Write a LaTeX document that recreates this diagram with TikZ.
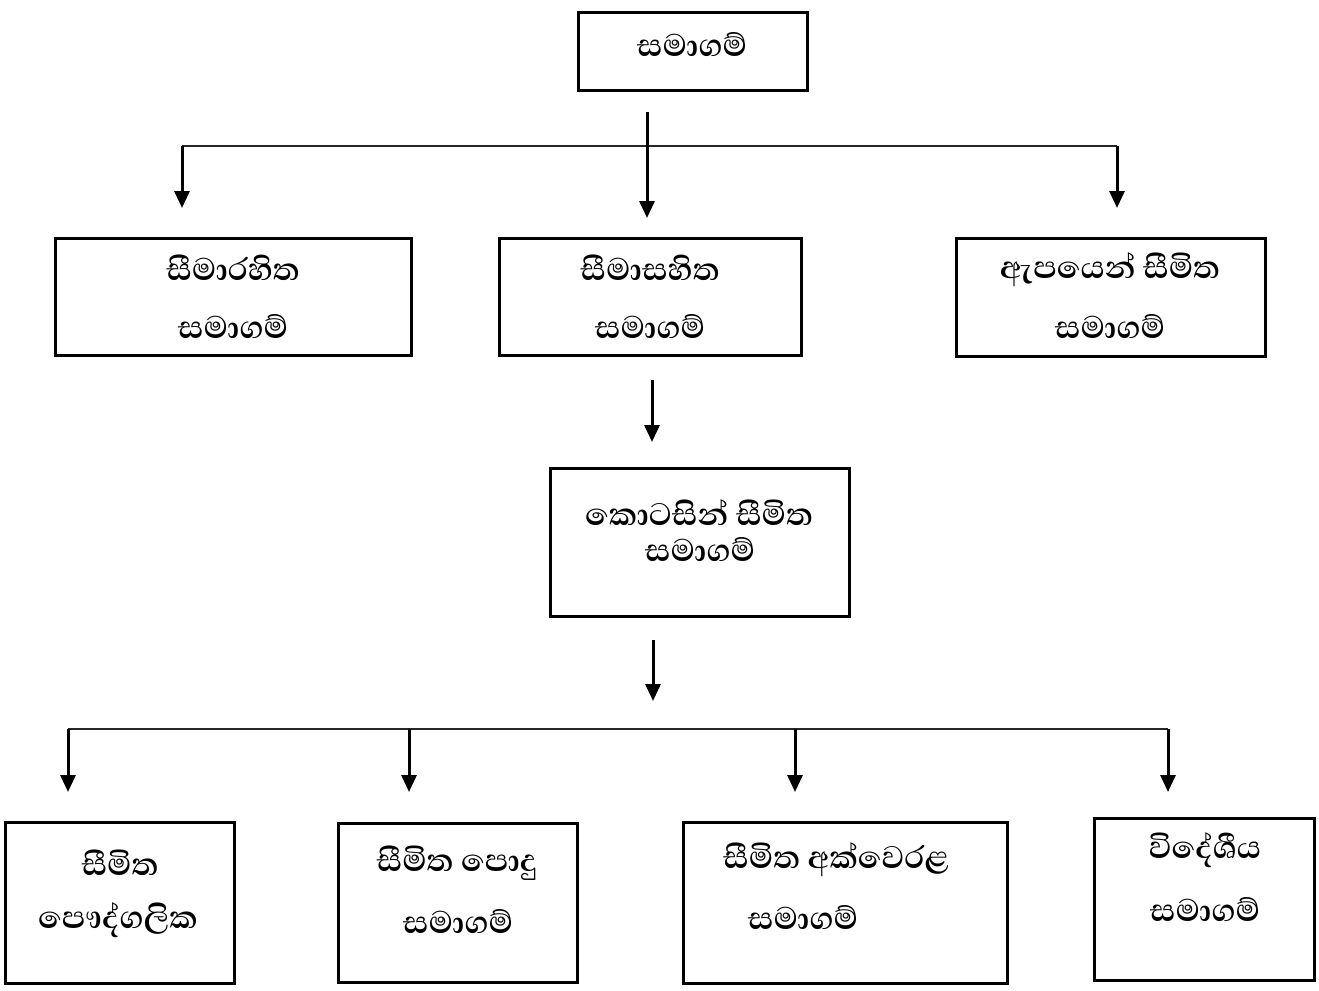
\documentclass[tikz,border=0pt]{standalone}
\usepackage{fontspec}
\newfontfamily\sinhalafont[Script=Sinhala]{Abhaya Libre}
\usetikzlibrary{arrows.meta}
\begin{document}
\begin{tikzpicture}[x=1pt,y=-1pt,
  box/.style={draw=black,line width=3pt,inner sep=0pt,fill=none},
  lbl/.style={inner sep=0pt,font=\sinhalafont\bfseries\fontsize{40}{46}\selectfont},
  arr/.style={draw=black,line width=3pt,-{Triangle[length=17pt,width=15pt]}},
  bar/.style={draw=black!85,line width=1.5pt}]
\useasboundingbox (0,0) rectangle (1319,990);
% boxes
\node[box,minimum width=229pt,minimum height=78pt] (top) at (693,51.5) {};
\node[box,minimum width=356pt,minimum height=117pt] (b1) at (233.5,297) {};
\node[box,minimum width=302pt,minimum height=117pt] (b2) at (650.5,297) {};
\node[box,minimum width=309pt,minimum height=118pt] (b3) at (1111,297.5) {};
\node[box,minimum width=299pt,minimum height=148pt] (b4) at (700,542.5) {};
\node[box,minimum width=229pt,minimum height=161pt] (c1) at (120,903) {};
\node[box,minimum width=239pt,minimum height=159pt] (c2) at (458,903) {};
\node[box,minimum width=324pt,minimum height=161pt] (c3) at (845.5,903) {};
\node[box,minimum width=220pt,minimum height=162pt] (c4) at (1204.5,899.5) {};
% labels
\node[lbl] (topt) at (692,45) {සමාගම්};
\node[lbl] (b1a) at (233,268) {සීමාරහිත};
\node[lbl] (b1b) at (233,327) {සමාගම්};
\node[lbl] (b2a) at (650,268) {සීමාසහිත};
\node[lbl] (b2b) at (650,327) {සමාගම්};
\node[lbl] (b3a) at (1110,270) {ඇපයෙන් සීමිත};
\node[lbl] (b3b) at (1110,327) {සමාගම්};
\node[lbl] (b4a) at (699,513) {කොටසින් සීමිත};
\node[lbl] (b4b) at (700,550) {සමාගම්};
\node[lbl] (c1a) at (120,863) {සීමිත};
\node[lbl] (c1b) at (118,920) {පෞද්ගලික};
\node[lbl] (c2a) at (457,863) {සීමිත පොදු};
\node[lbl] (c2b) at (458,922) {සමාගම්};
\node[lbl] (c3a) at (836,860) {සීමිත අක්වෙරළ};
\node[lbl] (c3b) at (803,918) {සමාගම්};
\node[lbl] (c4a) at (1205,850) {විදේශීය};
\node[lbl] (c4b) at (1205,910) {සමාගම්};
% connector coordinates
\coordinate (s0) at (647,112);
\coordinate (e0) at (647,218);
\coordinate (hL) at (182,146);
\coordinate (hR) at (1117,146);
\coordinate (eL) at (182,208);
\coordinate (eR) at (1117,208);
\coordinate (s1) at (652,380);
\coordinate (e1) at (652,442);
\coordinate (s2) at (653,640);
\coordinate (e2) at (653,701);
\coordinate (g1) at (68,729);
\coordinate (g2) at (409,729);
\coordinate (g3) at (795,729);
\coordinate (g4) at (1168,729);
\coordinate (d1) at (68,792);
\coordinate (d2) at (409,792);
\coordinate (d3) at (795,792);
\coordinate (d4) at (1168,792);
% connectors
\draw[bar] (hL) -- (hR);
\draw[arr] (s0) -- (e0);
\draw[arr] (hL) -- (eL);
\draw[arr] (hR) -- (eR);
\draw[arr] (s1) -- (e1);
\draw[arr] (s2) -- (e2);
\draw[bar] (g1) -- (g4);
\draw[arr] (g1) -- (d1);
\draw[arr] (g2) -- (d2);
\draw[arr] (g3) -- (d3);
\draw[arr] (g4) -- (d4);
\end{tikzpicture}
\end{document}
